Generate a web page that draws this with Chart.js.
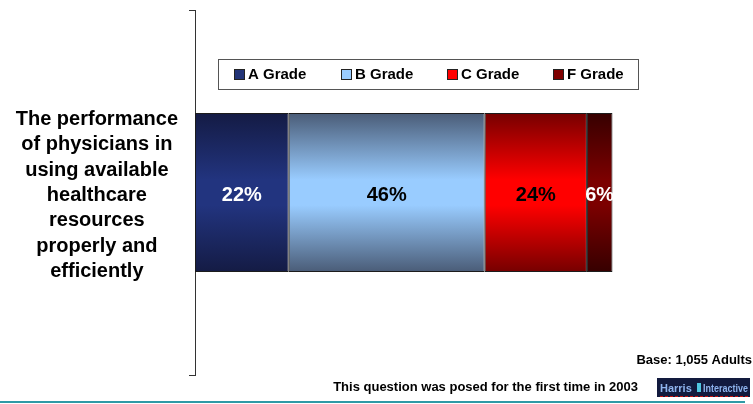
<!DOCTYPE html>
<html>
<head>
<meta charset="utf-8">
<script src="https://cdn.jsdelivr.net/npm/chart.js@4/dist/chart.umd.min.js"></script>
<style>
  html, body { margin: 0; padding: 0; background: #ffffff; }
  #wrap { position: relative; width: 753px; height: 404px; }
</style>
</head>
<body>
<div id="wrap"><canvas id="chart" width="753" height="404"></canvas></div>
<script>
// Survey item (category axis label, one line per entry)
const categoryLines = ['The performance', 'of physicians in', 'using available', 'healthcare', 'resources', 'properly and', 'efficiently'];

// Grade shares (percent of adults)
const gradeLabels = ['A Grade', 'B Grade', 'C Grade', 'F Grade'];
const aGrade = [22];
const bGrade = [46];
const cGrade = [24];
const fGrade = [6];

const baseNote = 'Base: 1,055 Adults';
const footNote = 'This question was posed for the first time in 2003';

const FONT = '"Liberation Sans", Arial, Helvetica, sans-serif';
const BAR_FRACTION = 0.436;

// vertical "cylinder" shading for each segment: edge, centre colours
const shades = [
  { edge: '#141b44', mid: '#22347f', swatch: '#223377', text: '#ffffff' },
  { edge: '#4a5c77', mid: '#99ccff', swatch: '#99ccff', text: '#000000' },
  { edge: '#760000', mid: '#ff0000', swatch: '#ff0000', text: '#000000' },
  { edge: '#360000', mid: '#7c0000', swatch: '#7f0000', text: '#ffffff' }
];

function barFill(i) {
  return (ctx) => {
    const chart = ctx.chart;
    const s = shades[i];
    if (!chart.chartArea || !chart.scales.y) return s.mid;
    const y = chart.scales.y;
    const c = y.getPixelForValue(0);
    const h = y.height * BAR_FRACTION;
    const g = chart.ctx.createLinearGradient(0, c - h / 2, 0, c + h / 2);
    g.addColorStop(0, s.edge);
    g.addColorStop(0.42, s.mid);
    g.addColorStop(0.58, s.mid);
    g.addColorStop(1, s.edge);
    return g;
  };
}

const seriesValues = [aGrade, bGrade, cGrade, fGrade];
const datasets = seriesValues.map((vals, i) => ({
  label: gradeLabels[i],
  data: vals,
  backgroundColor: barFill(i),
  borderColor: '#1c1c1c',
  borderWidth: 1,
  borderSkipped: false,
  categoryPercentage: 1,
  barPercentage: BAR_FRACTION
}));

// percentage labels in the middle of each segment
const valueLabels = {
  id: 'valueLabels',
  afterDatasetsDraw(chart) {
    const ctx = chart.ctx;
    ctx.save();
    ctx.font = 'bold 20px ' + FONT;
    ctx.textAlign = 'center';
    ctx.textBaseline = 'middle';
    chart.data.datasets.forEach((ds, i) => {
      const el = chart.getDatasetMeta(i).data[0];
      if (!el) return;
      const p = el.getCenterPoint();
      ctx.fillStyle = shades[i].text;
      ctx.fillText(ds.data[0] + '%', p.x, p.y + 3);
    });
    ctx.restore();
  }
};

// boxed legend, notes and logo block
const decorations = {
  id: 'decorations',
  afterDraw(chart) {
    const ctx = chart.ctx;
    ctx.save();
    // legend frame
    ctx.fillStyle = '#ffffff';
    ctx.fillRect(218, 59.5, 420, 30);
    ctx.strokeStyle = '#555555';
    ctx.lineWidth = 1;
    ctx.strokeRect(218.5, 59.5, 420, 30);
    const xs = [234, 341, 447, 553];
    ctx.font = 'bold 15px ' + FONT;
    ctx.textBaseline = 'middle';
    ctx.textAlign = 'left';
    chart.data.datasets.forEach((ds, i) => {
      ctx.fillStyle = shades[i].swatch;
      ctx.fillRect(xs[i], 69, 11, 11);
      ctx.strokeStyle = '#222222';
      ctx.strokeRect(xs[i] + 0.5, 69.5, 10, 10);
      ctx.fillStyle = '#000000';
      ctx.fillText(ds.label, xs[i] + 14, 75);
    });

    // notes
    ctx.font = 'bold 13px ' + FONT;
    ctx.textBaseline = 'alphabetic';
    ctx.textAlign = 'right';
    ctx.fillStyle = '#000000';
    ctx.fillText(baseNote, 752, 364);
    ctx.fillText(footNote, 638, 391);

    // bottom rule
    ctx.strokeStyle = '#2f9aa6';
    ctx.lineWidth = 2;
    ctx.beginPath();
    ctx.moveTo(0, 402);
    ctx.lineTo(745, 402);
    ctx.stroke();

    // logo block
    ctx.fillStyle = '#121a3e';
    ctx.fillRect(657, 378, 93, 19);
    ctx.fillStyle = '#8fb4ee';
    ctx.font = 'bold 11px ' + FONT;
    ctx.textAlign = 'left';
    ctx.fillText('Harris', 660, 392);
    ctx.fillStyle = '#4fc6e0';
    ctx.fillRect(697, 383, 4, 9);
    ctx.fillStyle = '#8fb4ee';
    ctx.fillText('Interactive', 703, 392, 45);
    ctx.strokeStyle = '#cc1111';
    ctx.lineWidth = 1;
    ctx.setLineDash([3, 2]);
    ctx.beginPath();
    ctx.moveTo(660, 396.5);
    ctx.lineTo(750, 396.5);
    ctx.stroke();
    ctx.restore();
  }
};

new Chart(document.getElementById('chart'), {
  type: 'bar',
  data: {
    labels: [categoryLines],
    datasets: datasets
  },
  options: {
    indexAxis: 'y',
    responsive: false,
    animation: false,
    layout: { padding: { left: 0, right: 132, top: 10, bottom: 29 } },
    plugins: {
      legend: { display: false },
      tooltip: { enabled: false }
    },
    scales: {
      x: {
        display: false,
        stacked: true,
        min: 0,
        max: 100
      },
      y: {
        stacked: true,
        offset: true,
        afterFit(scale) {
          scale.width = 195;
          scale.paddingTop = 0;
          scale.paddingBottom = 0;
        },
        border: { display: true, color: '#333333', width: 1 },
        grid: {
          display: true,
          offset: true,
          drawOnChartArea: false,
          drawTicks: true,
          tickLength: 6,
          color: '#333333'
        },
        ticks: {
          crossAlign: 'center',
          padding: 11,
          labelOffset: 3,
          color: '#000000',
          font: { family: FONT, size: 20, weight: 'bold', lineHeight: 1.265 }
        }
      }
    }
  },
  plugins: [valueLabels, decorations]
});
</script>
</body>
</html>
